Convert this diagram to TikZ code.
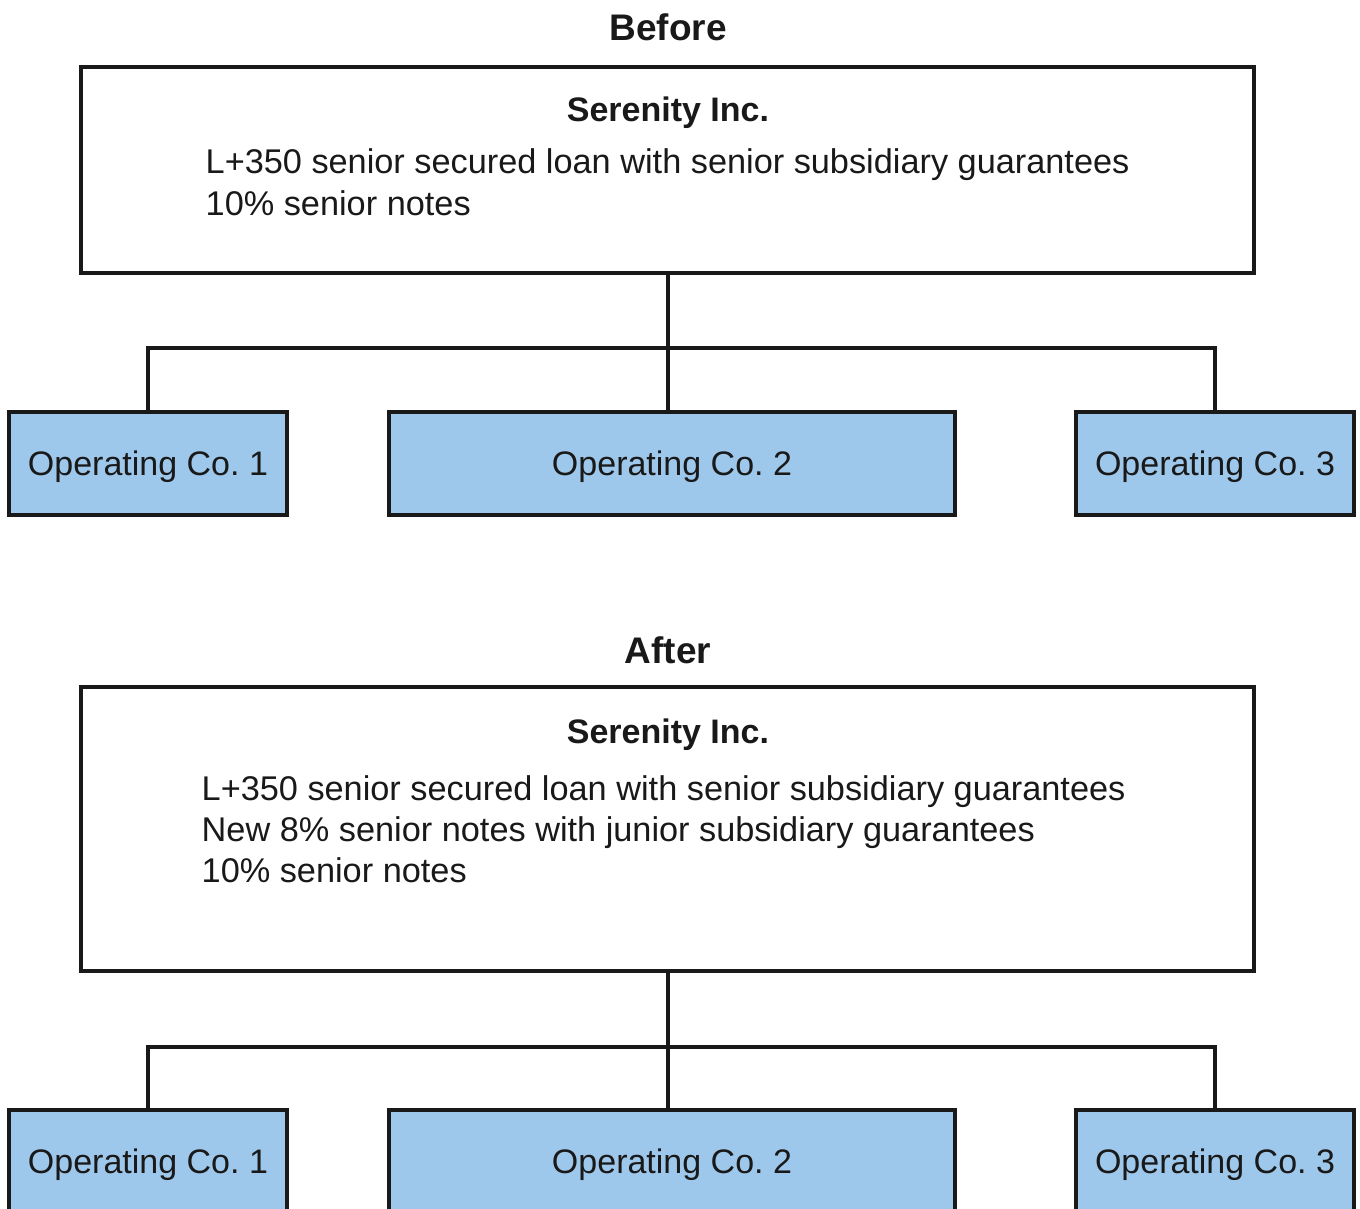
\documentclass[tikz,border=0pt]{standalone}
\usepackage{fontspec}
\setmainfont{Liberation Sans}
\frenchspacing
\definecolor{opfill}{RGB}{158,200,235}
\definecolor{ink}{RGB}{25,25,25}
\begin{document}
\begin{tikzpicture}[x=1pt,y=-1pt,
  bigbox/.style={draw=ink,line width=3.5pt,fill=white,minimum width=1173pt,inner sep=0pt},
  opbox/.style={draw=ink,line width=3.5pt,fill=opfill,minimum height=103pt,inner sep=0pt,
    text height=24.3pt,text depth=0pt,font=\fontsize{34}{40}\selectfont,text=ink},
  title/.style={inner sep=0pt,anchor=base,font=\bfseries\fontsize{37}{44}\selectfont,text=ink},
  head/.style={inner sep=0pt,anchor=base,font=\bfseries\fontsize{34}{40}\selectfont,text=ink},
  line/.style={inner sep=0pt,anchor=base west,font=\fontsize{34.3}{40}\selectfont,text=ink},
  conn/.style={draw=ink,line width=3.5pt}]
\clip (0,0) rectangle (1360,1209);
\fill[white] (0,0) rectangle (1360,1209);

% ---------- Before ----------
\node[title] (t1) at (668,41) {Before};
\node[bigbox,minimum height=206pt] (s1) at (667.5,170) {};
\node[head] (s1h) at (668,122) {Serenity Inc.};
\node[line] (s1a) at (205.5,174) {L+350 senior secured loan with senior subsidiary guarantees};
\node[line] (s1b) at (205.5,216) {10\% senior notes};
\node[opbox,minimum width=278pt] (a1) at (148,463.5) {Operating Co. 1};
\node[opbox,minimum width=566pt] (a2) at (672,463.5) {Operating Co. 2};
\node[opbox,minimum width=278pt] (a3) at (1215,463.5) {Operating Co. 3};
\coordinate (j1) at (668,348);
\draw[conn] (s1.south -| j1) -- (a2.north -| j1);
\draw[conn] (a1.north) |- (j1) -| (a3.north);

% ---------- After ----------
\node[title] (t2) at (668,663) {After};
\node[bigbox,minimum height=284pt] (s2) at (667.5,829) {};
\node[head] (s2h) at (668,743) {Serenity Inc.};
\node[line] (s2a) at (201.5,800) {L+350 senior secured loan with senior subsidiary guarantees};
\node[line] (s2b) at (201.5,841) {New 8\% senior notes with junior subsidiary guarantees};
\node[line] (s2c) at (201.5,882) {10\% senior notes};
\node[opbox,minimum width=278pt] (b1) at (148,1161.5) {Operating Co. 1};
\node[opbox,minimum width=566pt] (b2) at (672,1161.5) {Operating Co. 2};
\node[opbox,minimum width=278pt] (b3) at (1215,1161.5) {Operating Co. 3};
\coordinate (j2) at (668,1047);
\draw[conn] (s2.south -| j2) -- (b2.north -| j2);
\draw[conn] (b1.north) |- (j2) -| (b3.north);
\end{tikzpicture}
\end{document}
